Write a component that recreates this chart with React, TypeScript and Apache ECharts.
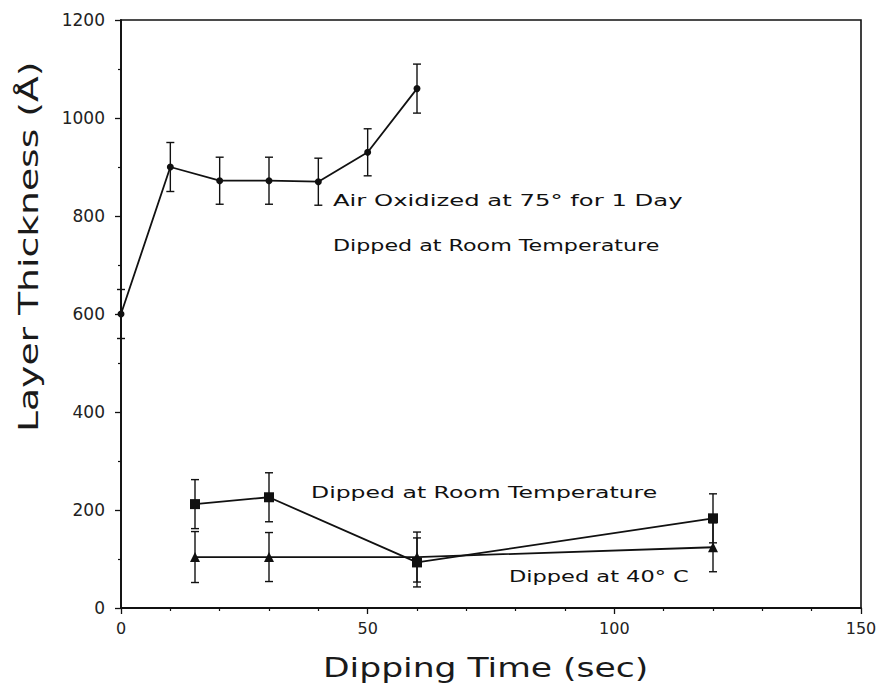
import React, { useEffect, useRef } from "react";
import * as echarts from "echarts";

// ---- data ----
const airTime = [0, 10, 20, 30, 40, 50, 60];
const airThickness = [600, 900, 872, 872, 870, 930, 1060];
const airError = [50, 50, 48, 48, 48, 48, 50];

const roomTime = [15, 30, 60, 120];
const roomThickness = [212, 226, 93, 183];
const roomError = [50, 50, 50, 50];

const warmTime = [15, 30, 60, 120];
const warmThickness = [104, 104, 104, 124];
const warmError = [52, 50, 51, 50];

const xTicks = { min: 0, max: 150, interval: 50 };
const yTicks = { min: 0, max: 1200, interval: 200 };

const labels = {
  x: "Dipping Time (sec)",
  y: "Layer Thickness (Å)",
  air1: "Air Oxidized at 75° for 1 Day",
  air2: "Dipped at Room Temperature",
  room: "Dipped at Room Temperature",
  warm: "Dipped at 40° C",
};

const FONT = "DejaVu Sans";
const INK = "#111";

function pairs(xs: number[], ys: number[]) {
  return xs.map((x, i) => [x, ys[i]]);
}
function triples(xs: number[], ys: number[], es: number[]) {
  return xs.map((x, i) => [x, ys[i], es[i]]);
}

function errorSeries(name: string, data: number[][]) {
  return {
    name,
    type: "custom",
    z: 1,
    encode: { x: 0, y: 1 },
    data,
    renderItem: (_p: any, api: any) => {
      const x = api.value(0);
      const y = api.value(1);
      const e = api.value(2);
      const top = api.coord([x, y + e]);
      const bot = api.coord([x, y - e]);
      const w = 4;
      const style = { stroke: INK, lineWidth: 1.4 };
      return {
        type: "group",
        children: [
          { type: "line", shape: { x1: top[0], y1: top[1], x2: bot[0], y2: bot[1] }, style },
          { type: "line", shape: { x1: top[0] - w, y1: top[1], x2: top[0] + w, y2: top[1] }, style },
          { type: "line", shape: { x1: bot[0] - w, y1: bot[1], x2: bot[0] + w, y2: bot[1] }, style },
        ],
      };
    },
  };
}

function lineSeries(name: string, data: number[][], symbol: string, size: number) {
  return {
    name,
    type: "line",
    z: 3,
    data,
    symbol,
    symbolSize: size,
    showSymbol: true,
    lineStyle: { color: INK, width: 1.8 },
    itemStyle: { color: INK, borderWidth: 0 },
  };
}

function textEl(text: string, x: number, y: number, size: number, scaleX: number, rotation = 0, fill = INK) {
  return {
    type: "text",
    x,
    y,
    rotation,
    scaleX,
    z: 10,
    style: {
      text,
      fontFamily: FONT,
      fontSize: size,
      fill,
      textAlign: "left",
      textVerticalAlign: "middle",
    },
  };
}

export default function App() {
  const ref = useRef<HTMLDivElement>(null);

  useEffect(() => {
    if (!ref.current) return;
    const chart = echarts.init(ref.current, undefined, { renderer: "svg" });
    const axisCommon = {
      axisLine: { show: true, onZero: false, lineStyle: { color: INK, width: 1.8 } },
      splitLine: { show: false },
      minorSplitLine: { show: false },
    };
    const plain = (v: number) => String(v);
    chart.setOption({
      animation: false,
      backgroundColor: "#fff",
      grid: {
        left: 121,
        right: 19,
        top: 20,
        bottom: 83,
        show: true,
        borderColor: INK,
        borderWidth: 1.6,
        backgroundColor: "transparent",
      },
      xAxis: {
        type: "value",
        min: xTicks.min,
        max: xTicks.max,
        interval: xTicks.interval,
        ...axisCommon,
        axisTick: { show: true, length: 6, lineStyle: { color: INK, width: 1.3 } },
        minorTick: { show: true, splitNumber: 5, length: 3, lineStyle: { color: INK, width: 1.2 } },
        axisLabel: { color: "#222", fontFamily: FONT, fontSize: 16, margin: 12, formatter: plain },
      },
      yAxis: {
        type: "value",
        min: yTicks.min,
        max: yTicks.max,
        interval: yTicks.interval,
        ...axisCommon,
        axisTick: { show: true, length: 6, lineStyle: { color: INK, width: 1.3 } },
        minorTick: { show: true, splitNumber: 2, length: 3, lineStyle: { color: INK, width: 1.2 } },
        axisLabel: { color: "#222", fontFamily: FONT, fontSize: 17, margin: 16, formatter: plain },
      },
      graphic: [
        textEl(labels.x, 323, 668, 26, 1.33, 0, "#1a1a1a"),
        textEl(labels.y, 29, 432, 26, 1.45, Math.PI / 2, "#1a1a1a"),
        textEl(labels.air1, 333, 201, 15, 1.62),
        textEl(labels.air2, 333, 245, 15, 1.48),
        textEl(labels.room, 311, 493, 15, 1.57),
        textEl(labels.warm, 509, 577, 15, 1.5),
      ],
      series: [
        errorSeries("airErr", triples(airTime, airThickness, airError)),
        errorSeries("roomErr", triples(roomTime, roomThickness, roomError)),
        errorSeries("warmErr", triples(warmTime, warmThickness, warmError)),
        lineSeries("Air oxidized", pairs(airTime, airThickness), "circle", 7),
        lineSeries("Room temperature", pairs(roomTime, roomThickness), "rect", 10),
        lineSeries("40 C", pairs(warmTime, warmThickness), "triangle", 10),
      ],
    });
    return () => chart.dispose();
  }, []);

  return (
    <div
      ref={ref}
      style={{ position: "absolute", left: 0, top: 0, width: 880, height: 691, background: "#fff" }}
    />
  );
}
